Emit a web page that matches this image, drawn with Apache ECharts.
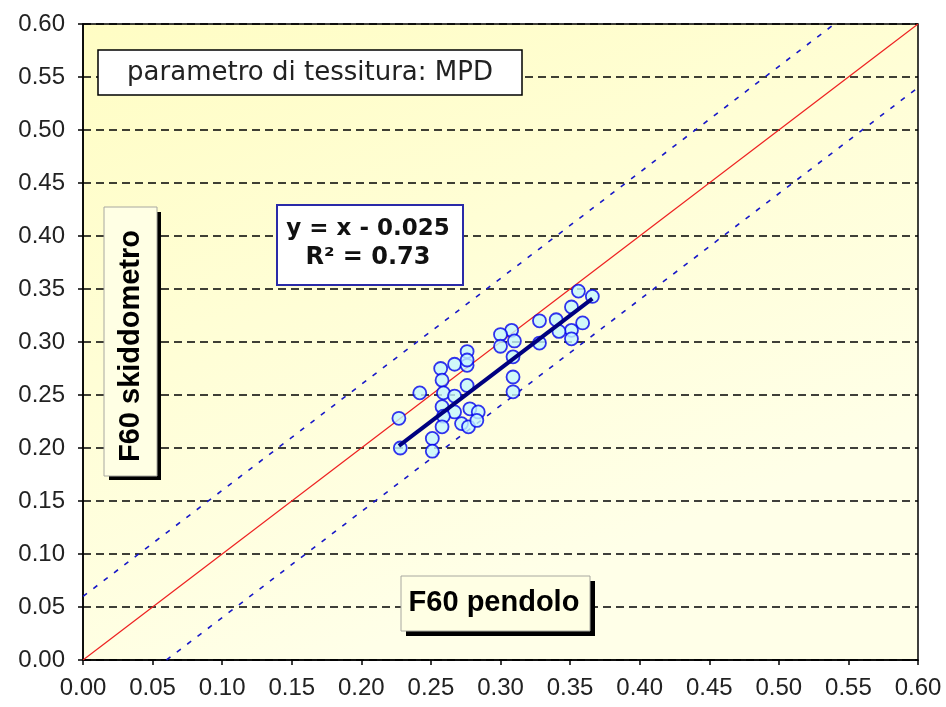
<!DOCTYPE html>
<html><head><meta charset="utf-8">
<script src="https://cdn.jsdelivr.net/npm/echarts@6/dist/echarts.min.js"></script>
<style>html,body{margin:0;padding:0;background:#fff}#c{width:946px;height:707px}</style>
</head><body><div id="c"></div>
<script>
// F60 pendolo (x) vs F60 skiddometro (y)
const pendolo = [0.356,0.366,0.351,0.328,0.340,0.359,0.351,0.342,0.308,0.300,0.300,0.310,0.328,0.351,0.309,0.309,0.309,0.276,0.267,0.276,0.276,0.257,0.258,0.276,0.242,0.259,0.267,0.258,0.278,0.284,0.267,0.259,0.272,0.277,0.283,0.258,0.227,0.251,0.251,0.228];
const skiddometro = [0.348,0.343,0.333,0.320,0.321,0.318,0.311,0.310,0.311,0.307,0.296,0.301,0.299,0.303,0.286,0.267,0.253,0.291,0.279,0.278,0.283,0.275,0.264,0.259,0.252,0.252,0.249,0.239,0.237,0.234,0.234,0.230,0.223,0.220,0.226,0.220,0.228,0.209,0.197,0.200];
const axisRange = [0, 0.6];
const axisStep = 0.05;
const trendX = [0.227, 0.366];
const trendIntercept = -0.025;
const bandOffset = 0.06;
const titleText = 'parametro di tessitura: MPD';
const eqLines = ['y = x - 0.025', 'R² = 0.73'];
const xName = 'F60 pendolo';
const yName = 'F60 skiddometro';

const points = pendolo.map((x, i) => [x, skiddometro[i]]);
const identity = axisRange.map(v => [v, v]);
const upper = [[axisRange[0], axisRange[0] + bandOffset], [axisRange[1] - bandOffset, axisRange[1]]];
const lower = [[axisRange[0] + bandOffset, axisRange[0]], [axisRange[1], axisRange[1] - bandOffset]];
const trend = trendX.map(x => [x, x + trendIntercept]);

const chart = echarts.init(document.getElementById('c'), null, {renderer: 'canvas'});
const labelFont = {fontFamily: 'Liberation Sans', fontSize: 24, color: '#222'};
function axis(margin) {
  return {
    type: 'value', min: axisRange[0], max: axisRange[1], interval: axisStep,
    axisLine: {show: true, lineStyle: {color: '#000', width: 1.5}},
    axisTick: {show: true, length: 5, lineStyle: {color: '#000', width: 1.5}},
    axisLabel: Object.assign({margin: margin, formatter: v => v.toFixed(2)}, labelFont),
    splitLine: {show: false}
  };
}
const xAxis = axis(16);
const yAxis = axis(18);
yAxis.splitLine = {show: true, lineStyle: {color: '#000', width: 1.6, type: [8, 5]}};

const boldBox = {fontFamily: 'Liberation Sans', fontWeight: 'bold', fontSize: 29, fill: '#000'};

chart.setOption({
  animation: false,
  backgroundColor: '#fff',
  grid: {left: 83, right: 28, top: 24, bottom: 47, show: true,
    borderColor: '#000', borderWidth: 1.5,
    backgroundColor: new echarts.graphic.LinearGradient(0, 0, 0.3, 1, [
      {offset: 0, color: '#fffdc4'}, {offset: 1, color: '#ffffe8'}])},
  xAxis: xAxis,
  yAxis: yAxis,
  series: [
    {type: 'line', data: identity, symbol: 'none', z: 2,
      lineStyle: {color: '#ee2222', width: 1.2}},
    {type: 'line', data: upper, symbol: 'none', z: 2,
      lineStyle: {color: '#1818c8', width: 1.6, type: [5, 8]}},
    {type: 'line', data: lower, symbol: 'none', z: 2,
      lineStyle: {color: '#1818c8', width: 1.6, type: [5, 8]}},
    {type: 'scatter', data: points, symbol: 'circle', symbolSize: 13, z: 3,
      itemStyle: {color: '#c4f6ff', borderColor: '#0000ee', borderWidth: 1.8}},
    {type: 'line', data: trend, symbol: 'none', z: 4,
      lineStyle: {color: '#000080', width: 4}}
  ],
  graphic: [
    // title box
    {type: 'rect', shape: {x: 98, y: 50, width: 424, height: 45}, z: 10,
      style: {fill: '#fff', stroke: '#000', lineWidth: 1.5}},
    {type: 'text', x: 310, y: 73, z: 11,
      style: {text: titleText, fontFamily: 'DejaVu Sans', fontSize: 26, fill: '#222',
        align: 'center', verticalAlign: 'middle'}},
    // equation box
    {type: 'rect', shape: {x: 277, y: 205, width: 186, height: 80}, z: 10,
      style: {fill: '#fff', stroke: '#2a2aa8', lineWidth: 2}},
    {type: 'text', x: 368, y: 229, z: 11,
      style: {text: eqLines[0], fontFamily: 'DejaVu Sans', fontWeight: 'bold', fontSize: 23, fill: '#111',
        align: 'center', verticalAlign: 'middle'}},
    {type: 'text', x: 368, y: 258, z: 11,
      style: {text: eqLines[1], fontFamily: 'DejaVu Sans', fontWeight: 'bold', fontSize: 24, fill: '#111',
        align: 'center', verticalAlign: 'middle'}},
    // y name box with shadow
    {type: 'rect', shape: {x: 109, y: 212, width: 52, height: 268}, z: 10,
      style: {fill: '#000'}},
    {type: 'rect', shape: {x: 104, y: 207, width: 53, height: 269}, z: 11,
      style: {fill: '#ffffe4', stroke: '#a8a8a0', lineWidth: 1}},
    {type: 'text', x: 131, y: 346, rotation: Math.PI / 2, z: 12,
      style: Object.assign({text: yName, align: 'center', verticalAlign: 'middle'}, boldBox)},
    // x name box with shadow
    {type: 'rect', shape: {x: 406, y: 581, width: 189, height: 55}, z: 10,
      style: {fill: '#000'}},
    {type: 'rect', shape: {x: 401, y: 576, width: 189, height: 55}, z: 11,
      style: {fill: '#ffffe4', stroke: '#a8a8a0', lineWidth: 1}},
    {type: 'text', x: 494, y: 603, z: 12,
      style: Object.assign({text: xName, align: 'center', verticalAlign: 'middle'}, boldBox)}
  ]
});
</script></body></html>
